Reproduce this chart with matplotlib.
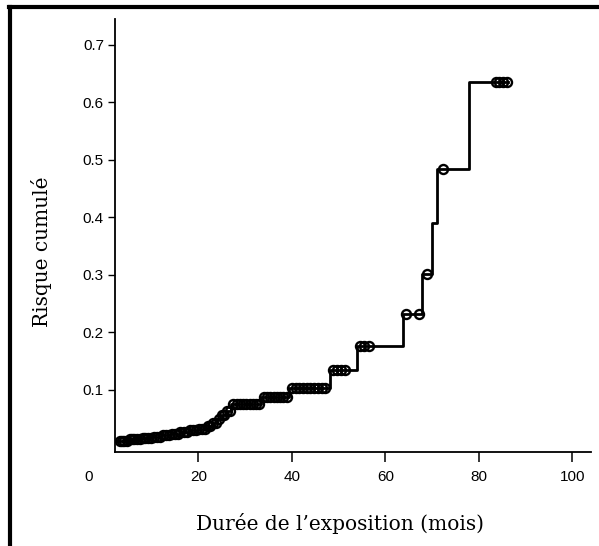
"""
Courbe de risque cumule (Kaplan-Meier inverse) selon la duree d'exposition.
"""
import numpy as np
import matplotlib
matplotlib.use("Agg")
import matplotlib.pyplot as plt
from matplotlib.lines import Line2D

# event times (mois) and cumulative risk just after each event
event_times = [3.2, 5.0, 8.0, 10.0, 12.0, 14.0, 16.0, 18.0, 20.0, 22.0,
               23.0, 24.0, 25.0, 26.0, 27.0, 33.5, 39.5, 48.2, 54.0,
               63.8, 67.9, 69.9, 71.1, 77.8]
cum_risk = [0.012, 0.014, 0.016, 0.018, 0.021, 0.024, 0.027, 0.030, 0.033,
            0.037, 0.043, 0.050, 0.056, 0.063, 0.075, 0.087, 0.104, 0.134,
            0.177, 0.232, 0.302, 0.390, 0.485, 0.635]
last_followup = 86.3

# censored observations (mois)
censored = [3.2, 3.7, 4.2, 4.7, 5.3, 5.8, 6.3, 6.9, 7.5, 8.1, 8.7, 9.3,
            9.9, 10.5, 11.2, 11.8, 12.4, 13.0, 13.7, 14.3, 15.0, 15.6,
            16.2, 16.9, 17.5, 18.2, 18.8, 19.5, 20.1, 20.8, 21.4, 22.0,
            22.6, 23.2, 23.8, 24.4, 25.0, 25.6, 26.2, 26.8,
            27.5, 28.2, 28.9, 29.6, 30.3, 31.0, 31.7, 32.4, 33.0,
            34.0, 34.7, 35.4, 36.1, 36.8, 37.5, 38.2, 38.9,
            40.0, 40.8, 41.6, 42.4, 43.2, 44.0, 44.8, 45.6, 46.4, 47.2,
            48.9, 49.7, 50.5, 51.3,
            54.6, 55.4, 56.6,
            64.4, 67.2,
            69.0,
            72.3,
            83.6, 84.4, 85.2, 86.0]

y_ticks = [0.1, 0.2, 0.3, 0.4, 0.5, 0.6, 0.7]
x_ticks = [20, 40, 60, 80, 100]

fig = plt.figure(figsize=(5.99, 5.46), dpi=100)
ax = fig.add_axes([0.192, 0.172, 0.794, 0.793])

xs = list(event_times) + [last_followup]
ys = list(cum_risk) + [cum_risk[-1]]
ax.step(xs, ys, where="post", color="black", lw=2.0, zorder=2)

idx = np.searchsorted(event_times, censored, side="right") - 1
cy = np.array(cum_risk)[idx]
ax.plot(censored, cy, ls="none", marker="o", ms=6.5, mfc="none",
        mec="black", mew=1.7, zorder=3)

ax.set_xlim(2.2, 103.9)
ax.set_ylim(-0.008, 0.745)
ax.spines["top"].set_visible(False)
ax.spines["right"].set_visible(False)
for s in ("left", "bottom"):
    ax.spines[s].set_linewidth(1.3)

ax.set_xticks(x_ticks)
ax.set_xticklabels([str(v) for v in x_ticks])
ax.set_yticks(y_ticks)
ax.set_yticklabels([f"{v:.1f}" for v in y_ticks])
ax.tick_params(axis="x", direction="out", length=7, width=1.1, pad=6,
               labelsize=11)
ax.tick_params(axis="y", direction="out", length=5, width=1.0, pad=3,
               labelsize=11)
for lab in ax.get_xticklabels() + ax.get_yticklabels():
    lab.set_family("Liberation Sans")

# origin label sits apart from the axes corner
fig.text(89 / 599, 1 - 477 / 546, "0", ha="center", va="center",
         fontsize=11, family="Liberation Sans")

ax.set_xlabel("Durée de l\u2019exposition (mois)", family="DejaVu Serif",
              fontsize=14.5)
ax.set_ylabel("Risque cumulé", family="DejaVu Serif", fontsize=14.5)
ax.xaxis.set_label_coords(0.473, -0.14)
ax.yaxis.set_label_coords(-0.132, 0.462)

# scanned page frame (top and left edges)
fig.add_artist(Line2D([0.015, 1.0], [0.988, 0.988], color="black", lw=3,
                      transform=fig.transFigure))
fig.add_artist(Line2D([0.0175, 0.0175], [0.0, 0.988], color="black", lw=3,
                      transform=fig.transFigure))

fig.savefig("out.png", dpi=100)
